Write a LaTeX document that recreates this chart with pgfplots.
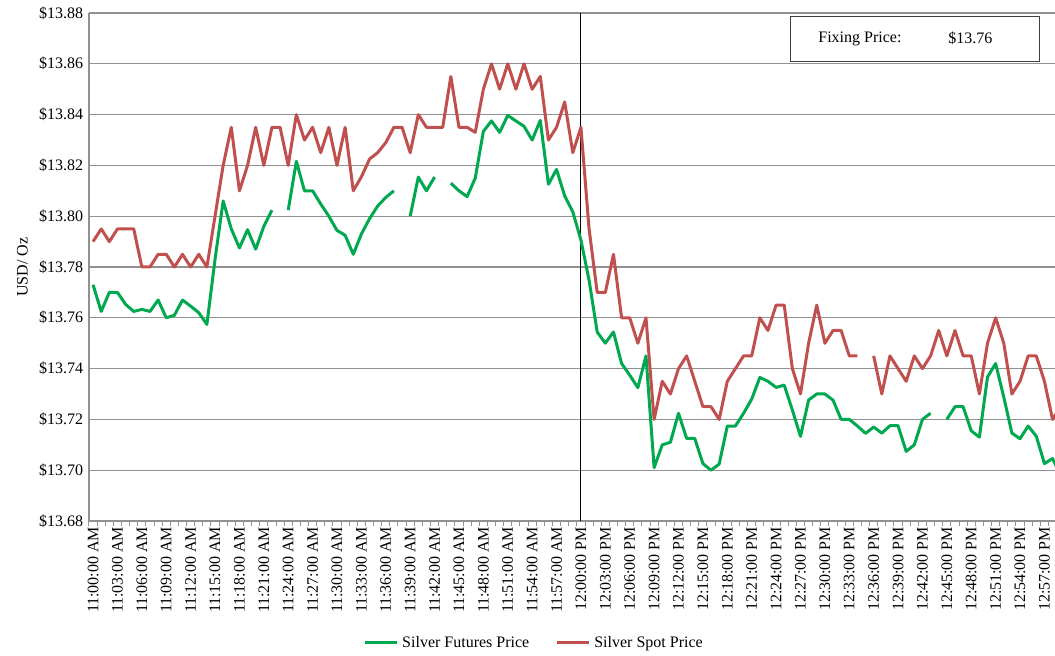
\documentclass[border=0pt]{standalone}
\usepackage{fontspec}
\setmainfont{Liberation Serif}
\usepackage{pgfplots}
\pgfplotsset{compat=1.18}
\usepackage{pgfplotstable}

\definecolor{fgreen}{RGB}{0,168,80}
\definecolor{sred}{RGB}{192,80,77}
\definecolor{gridc}{RGB}{145,145,145}
\newcommand{\fs}{\fontsize{9.6}{11.5}\selectfont}

\pgfplotstableread{
i F S
0 13.773 13.790
1 13.7625 13.795
2 13.770 13.790
3 13.770 13.795
4 13.7653 13.795
5 13.7625 13.795
6 13.7633 13.780
7 13.7625 13.780
8 13.767 13.785
9 13.760 13.785
10 13.761 13.780
11 13.767 13.785
12 13.7646 13.780
13 13.762 13.785
14 13.7574 13.780
15 13.783 13.800
16 13.806 13.820
17 13.795 13.835
18 13.7875 13.810
19 13.7947 13.820
20 13.787 13.835
21 13.796 13.820
22 13.8024 13.835
23 nan 13.835
24 13.8024 13.820
25 13.8216 13.840
26 13.810 13.830
27 13.810 13.835
28 13.8048 13.825
29 13.800 13.835
30 13.7944 13.820
31 13.7925 13.835
32 13.785 13.810
33 13.793 13.8155
34 13.799 13.8225
35 13.804 13.825
36 13.8074 13.829
37 13.810 13.835
38 nan 13.835
39 13.800 13.825
40 13.8154 13.840
41 13.810 13.835
42 13.8154 13.835
43 nan 13.835
44 13.813 13.855
45 13.810 13.835
46 13.8077 13.835
47 13.815 13.833
48 13.8334 13.850
49 13.8375 13.860
50 13.833 13.850
51 13.8397 13.860
52 13.8375 13.850
53 13.8354 13.860
54 13.830 13.850
55 13.8377 13.855
56 13.8126 13.830
57 13.8184 13.835
58 13.808 13.845
59 13.8017 13.825
60 13.7906 13.835
61 13.7748 13.795
62 13.7544 13.770
63 13.750 13.770
64 13.7544 13.785
65 13.742 13.760
66 13.7374 13.760
67 13.7325 13.750
68 13.745 13.760
69 13.701 13.720
70 13.710 13.735
71 13.711 13.730
72 13.7224 13.740
73 13.7125 13.745
74 13.7125 13.735
75 13.7026 13.725
76 13.700 13.725
77 13.7024 13.720
78 13.7174 13.735
79 13.7174 13.740
80 13.7224 13.745
81 13.728 13.745
82 13.7365 13.760
83 13.735 13.755
84 13.7326 13.765
85 13.7335 13.765
86 13.7237 13.740
87 13.7133 13.730
88 13.7276 13.750
89 13.730 13.765
90 13.730 13.750
91 13.7276 13.755
92 13.720 13.755
93 13.720 13.745
94 13.7174 13.745
95 13.7145 nan
96 13.717 13.745
97 13.7146 13.730
98 13.7175 13.745
99 13.7175 13.740
100 13.7074 13.735
101 13.710 13.745
102 13.720 13.740
103 13.7224 13.745
104 nan 13.755
105 13.720 13.745
106 13.725 13.755
107 13.725 13.745
108 13.7155 13.745
109 13.713 13.730
110 13.7367 13.750
111 13.742 13.760
112 13.7288 13.750
113 13.7146 13.730
114 13.7124 13.735
115 13.7174 13.745
116 13.7134 13.745
117 13.7026 13.735
118 13.7046 13.720
119 13.698 13.725
}\prices

\begin{document}
\begin{tikzpicture}
\begin{axis}[
  scale only axis, width=579.6pt, height=304.8pt,
  xmin=-0.5, xmax=118.3, ymin=13.68, ymax=13.88,
  axis x line*=bottom, axis y line*=left,
  axis line style={draw=gridc, line width=0.7pt, -},
  ytick={13.68,13.70,13.72,13.74,13.76,13.78,13.80,13.82,13.84,13.86,13.88},
  yticklabels={\$13.68,\$13.70,\$13.72,\$13.74,\$13.76,\$13.78,\$13.80,\$13.82,\$13.84,\$13.86,\$13.88},
  ymajorgrids, grid style={draw=gridc, line width=0.7pt},
  xtick={0,3,...,117},
  xticklabels={11:00:00 AM,11:03:00 AM,11:06:00 AM,11:09:00 AM,11:12:00 AM,11:15:00 AM,11:18:00 AM,11:21:00 AM,11:24:00 AM,11:27:00 AM,11:30:00 AM,11:33:00 AM,11:36:00 AM,11:39:00 AM,11:42:00 AM,11:45:00 AM,11:48:00 AM,11:51:00 AM,11:54:00 AM,11:57:00 AM,12:00:00 PM,12:03:00 PM,12:06:00 PM,12:09:00 PM,12:12:00 PM,12:15:00 PM,12:18:00 PM,12:21:00 PM,12:24:00 PM,12:27:00 PM,12:30:00 PM,12:33:00 PM,12:36:00 PM,12:39:00 PM,12:42:00 PM,12:45:00 PM,12:48:00 PM,12:51:00 PM,12:54:00 PM,12:57:00 PM},
  xticklabel style={rotate=90, anchor=east},
  minor xtick={-0.5,0.5,...,118.5},
  tick align=outside, major tick length=0pt, minor tick length=3pt,
  tick style={draw=gridc, line width=0.6pt},
  tick label style={font=\fs},
  ylabel={USD/ Oz}, ylabel style={font=\fs},
  unbounded coords=jump,
  legend style={at={(0.4617,-0.24)}, anchor=center, legend columns=2, draw=none, font=\fs,
    /tikz/every even column/.append style={column sep=14pt}},
  legend image code/.code={\draw[#1] (0pt,0pt) -- (19.2pt,0pt);},
]
\addplot[black, line width=0.6pt, forget plot] coordinates {(60,13.68) (60,13.88)};
\addplot[fgreen, line width=1.8pt, line join=round] table[x=i, y=F] {\prices};
\addlegendentry{Silver Futures Price}
\addplot[sred, line width=1.8pt, line join=round] table[x=i, y=S] {\prices};
\addlegendentry{Silver Spot Price}
\node[draw=black!75, fill=white, line width=0.6pt, anchor=north west, minimum width=149.4pt, minimum height=27pt, inner sep=0pt] at (rel axis cs:0.7257,0.9941) {};
\node[anchor=west, font=\fs, inner sep=0pt] at (rel axis cs:0.7547,0.9498) {Fixing Price:};
\node[anchor=west, font=\fs, inner sep=0pt] at (rel axis cs:0.8892,0.9498) {\$13.76};
\coordinate (bl) at (rel axis cs:0,0);
\end{axis}
\pgfresetboundingbox
\path ([xshift=-53.4pt,yshift=-81pt]bl) rectangle ([xshift=579.6pt,yshift=312.6pt]bl);
\end{tikzpicture}
\end{document}
